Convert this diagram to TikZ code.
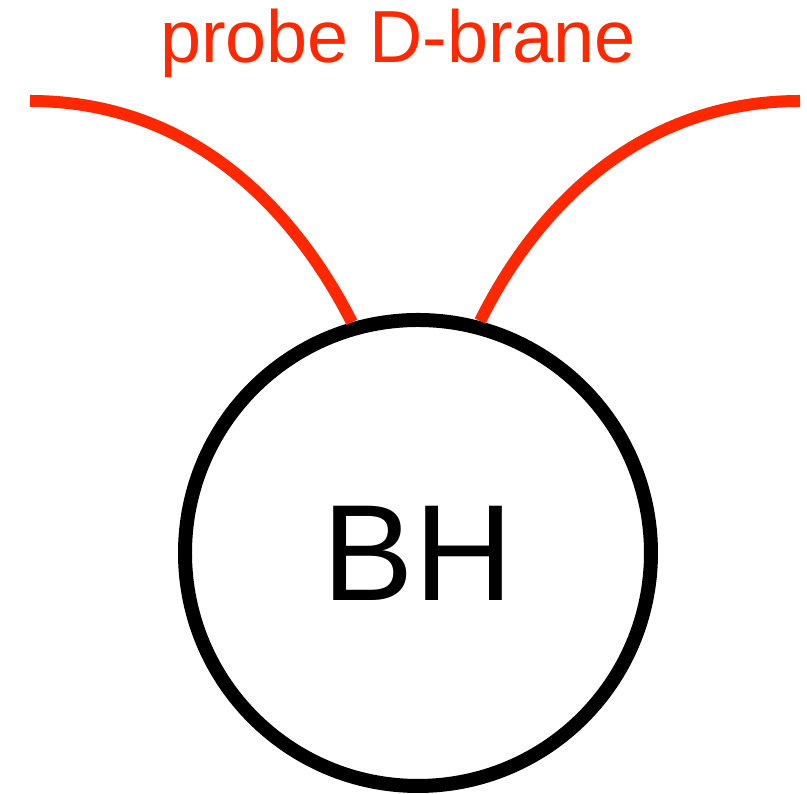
\documentclass[tikz,border=0pt]{standalone}
\usepackage{fontspec}
\setmainfont{Liberation Sans}
\usepackage{tikz}
\definecolor{braneRed}{RGB}{255,40,0}
\tikzset{
  hole/.style={draw, circle, line width=0.14cm, minimum size=4.66cm, inner sep=0pt,
               font=\fontsize{39}{39}\selectfont},
  brane/.style={draw=braneRed, line width=0.12cm},
  tag/.style={text=braneRed, inner sep=0pt, anchor=base, font=\fontsize{21}{21}\selectfont}
}

\begin{document}
\begin{tikzpicture}
\useasboundingbox (0,0) rectangle (8.07,7.94);
\node[hole] (bh) at (4.18,2.41) {BH};
\node[tag] (label) at (3.98,7.31) {probe D-brane};
\coordinate (lend) at (0.30,6.93);
\coordinate (rend) at (8.00,6.93);
% the two ends of the probe brane
\draw[brane] (lend) .. controls (2.00,6.93) and (3.00,5.74) .. (bh.106);
\draw[brane] (rend) .. controls (6.30,6.93) and (5.30,5.74) .. (bh.75);
\end{tikzpicture}
\end{document}
